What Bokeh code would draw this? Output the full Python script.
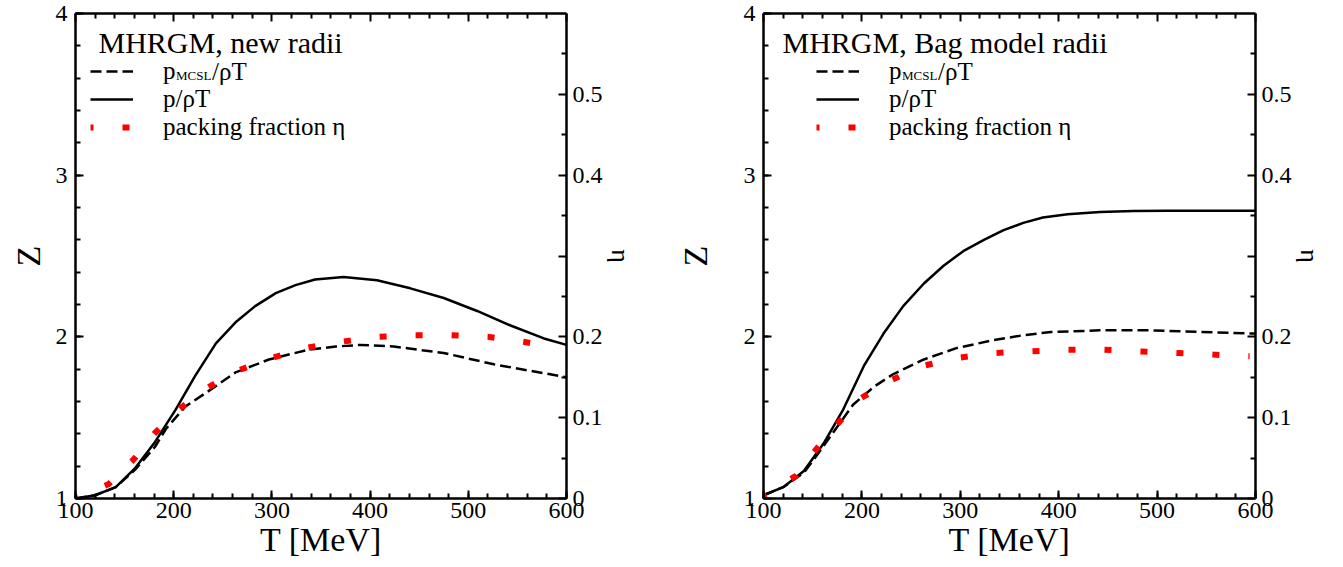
from bokeh.plotting import figure
from bokeh.models import (Range1d, LinearAxis, FixedTicker, SingleIntervalTicker,
                          Legend, LegendItem, Label)
from bokeh.layouts import row
from bokeh.embed import file_html
from bokeh.resources import INLINE

# ---------------- data ----------------
titles = ["MHRGM, new radii", "MHRGM, Bag model radii"]
legend_labels = ["p", "p/\u03c1T", "packing fraction \u03b7"]
x_label = "T [MeV]"

# Left panel: new radii
T_mcsl_new = [100, 120, 141, 161, 181, 192, 212, 232, 263, 297, 337, 365, 390, 424, 475, 526, 600]
Z_mcsl_new = [1.00, 1.02, 1.07, 1.18, 1.32, 1.43, 1.57, 1.65, 1.78, 1.86, 1.92, 1.94, 1.95, 1.94, 1.90, 1.83, 1.75]

T_p_new = [100, 120, 141, 161, 181, 202, 222, 243, 263, 283, 304, 324, 344, 373, 407, 441, 475, 509, 543, 577, 600]
Z_p_new = [1.00, 1.02, 1.07, 1.19, 1.35, 1.55, 1.76, 1.96, 2.09, 2.19, 2.27, 2.32, 2.355, 2.37, 2.35, 2.30, 2.24, 2.16, 2.07, 1.99, 1.95]

T_eta_new = [100, 134, 159, 180, 205, 233, 265, 300, 333, 371, 407, 444, 482, 520, 556, 592]
eta_new = [0.000, 0.018, 0.048, 0.080, 0.110, 0.136, 0.158, 0.174, 0.186, 0.194, 0.200, 0.202, 0.202, 0.200, 0.194, 0.186]

# Right panel: Bag model radii
T_mcsl_bag = [100, 120, 141, 151, 171, 191, 212, 232, 263, 296, 334, 364, 392, 442, 493, 544, 600]
Z_mcsl_bag = [1.02, 1.07, 1.16, 1.24, 1.41, 1.58, 1.69, 1.77, 1.86, 1.93, 1.98, 2.01, 2.03, 2.04, 2.04, 2.03, 2.02]

T_p_bag = [100, 120, 141, 161, 181, 202, 222, 242, 263, 283, 303, 324, 344, 364, 384, 409, 442, 476, 511, 550, 600]
Z_p_bag = [1.02, 1.07, 1.17, 1.34, 1.55, 1.82, 2.02, 2.19, 2.33, 2.44, 2.53, 2.60, 2.66, 2.705, 2.738, 2.758, 2.772, 2.778, 2.78, 2.78, 2.78]

T_eta_bag = [100, 133, 153, 175, 199, 229, 262, 298, 335, 371, 409, 446, 483, 521, 557, 594]
eta_bag = [0.004, 0.028, 0.060, 0.092, 0.124, 0.146, 0.164, 0.174, 0.180, 0.182, 0.184, 0.184, 0.182, 0.180, 0.178, 0.176]

x_ticks = [100, 200, 300, 400, 500, 600]
x_minor = [t for t in range(100, 601, 20) if t % 100]
eta_ticks = [0, 0.1, 0.2, 0.3, 0.4, 0.5]
eta_tick_labels = ["0", "0.1", "0.2", "", "0.4", "0.5"]
eta_minor = [0.05, 0.15, 0.25, 0.35, 0.45, 0.55]

# ---------------- styling ----------------
FONT = "Liberation Serif"
FH = 485
ROW = 28
LEG_H = 3 * ROW
LEG_TOP = 44      # legend top, px below frame top
ROW1 = LEG_TOP + ROW / 2


def style_axis(ax):
    ax.axis_line_width = 2.5
    ax.axis_line_color = "black"
    ax.major_tick_in = 8
    ax.major_tick_out = 0
    ax.minor_tick_in = 5
    ax.minor_tick_out = 0
    ax.major_tick_line_width = 2
    ax.minor_tick_line_width = 2
    ax.major_tick_line_color = "black"
    ax.minor_tick_line_color = "black"
    ax.major_label_text_font = FONT
    ax.major_label_text_font_size = "24px"
    ax.major_label_text_color = "black"
    ax.axis_label_text_font = FONT
    ax.axis_label_text_font_size = "34px"
    ax.axis_label_text_font_style = "normal"
    ax.axis_label_text_color = "black"


def make_panel(title, T_m, Z_m, T_p, Z_p, T_e, e, fw, min_left, z_standoff, leg_x, title_x):
    p = figure(frame_width=fw, frame_height=FH,
               x_range=Range1d(100, 600), y_range=Range1d(1, 4),
               output_backend="svg", toolbar_location=None,
               min_border_left=min_left, min_border_right=72,
               min_border_top=13, min_border_bottom=68)
    p.extra_y_ranges = {"eta": Range1d(0, 0.6)}
    p.xgrid.visible = False
    p.ygrid.visible = False
    p.outline_line_color = None

    r_m = p.line(T_m, Z_m, line_color="black", line_width=2.5, line_dash="11 5")
    r_p = p.line(T_p, Z_p, line_color="black", line_width=2.5)
    r_e = p.line(T_e, e, y_range_name="eta", line_color="#ff0000", line_width=6,
                 line_dash="7 29", line_dash_offset=4)

    xa = p.xaxis[0]
    xa.ticker = SingleIntervalTicker(interval=100, num_minor_ticks=5)
    style_axis(xa)
    xa.axis_label = x_label
    xa.major_label_standoff = 4
    xa.axis_label_standoff = 0

    ya = p.yaxis[0]
    ya.ticker = SingleIntervalTicker(interval=1, num_minor_ticks=5)
    style_axis(ya)
    ya.axis_label = "Z"
    ya.major_label_standoff = 8
    ya.axis_label_standoff = z_standoff

    top = LinearAxis(ticker=FixedTicker(ticks=x_ticks, minor_ticks=x_minor),
                     major_label_overrides={t: "" for t in x_ticks})
    style_axis(top)
    top.major_label_standoff = 0
    p.add_layout(top, "above")

    ra = LinearAxis(y_range_name="eta",
                    ticker=FixedTicker(ticks=eta_ticks, minor_ticks=eta_minor),
                    major_label_overrides=dict(zip(eta_ticks, eta_tick_labels)))
    style_axis(ra)
    ra.axis_label = "\u03b7"
    ra.axis_label_text_font_size = "26px"
    ra.major_label_standoff = 6
    ra.axis_label_standoff = 0
    p.add_layout(ra, "right")

    leg = Legend(items=[LegendItem(label=legend_labels[0], renderers=[r_m]),
                        LegendItem(label=legend_labels[1], renderers=[r_p]),
                        LegendItem(label=legend_labels[2], renderers=[r_e])],
                 location=(leg_x, FH - LEG_TOP - LEG_H),
                 glyph_width=43, glyph_height=ROW, label_height=ROW,
                 label_standoff=30, spacing=0, padding=0, margin=0,
                 border_line_color=None, background_fill_alpha=0,
                 label_text_font=FONT, label_text_font_size="25px",
                 label_text_color="black")
    p.add_layout(leg)

    tx = leg_x + 43 + 30
    p.add_layout(Label(x=tx + 12.5, y=FH - ROW1 - 4, x_units="screen", y_units="screen",
                       text="MCSL", text_font=FONT, text_font_size="13px",
                       text_baseline="middle", text_color="black"))
    p.add_layout(Label(x=tx + 12.5 + 36, y=FH - ROW1, x_units="screen", y_units="screen",
                       text="/\u03c1T", text_font=FONT, text_font_size="25px",
                       text_baseline="middle", text_color="black"))
    p.add_layout(Label(x=title_x, y=FH - 29, x_units="screen", y_units="screen",
                       text=title, text_font=FONT, text_font_size="30px",
                       text_baseline="alphabetic", text_color="black"))
    return p


p1 = make_panel(titles[0], T_mcsl_new, Z_mcsl_new, T_p_new, Z_p_new, T_eta_new, eta_new,
                fw=491, min_left=75, z_standoff=6, leg_x=15, title_x=23)
p2 = make_panel(titles[1], T_mcsl_bag, Z_mcsl_bag, T_p_bag, Z_p_bag, T_eta_bag, eta_bag,
                fw=492, min_left=125, z_standoff=27, leg_x=53, title_x=19)

layout = row(p1, p2)
open("out.html", "w").write(file_html(layout, INLINE))
